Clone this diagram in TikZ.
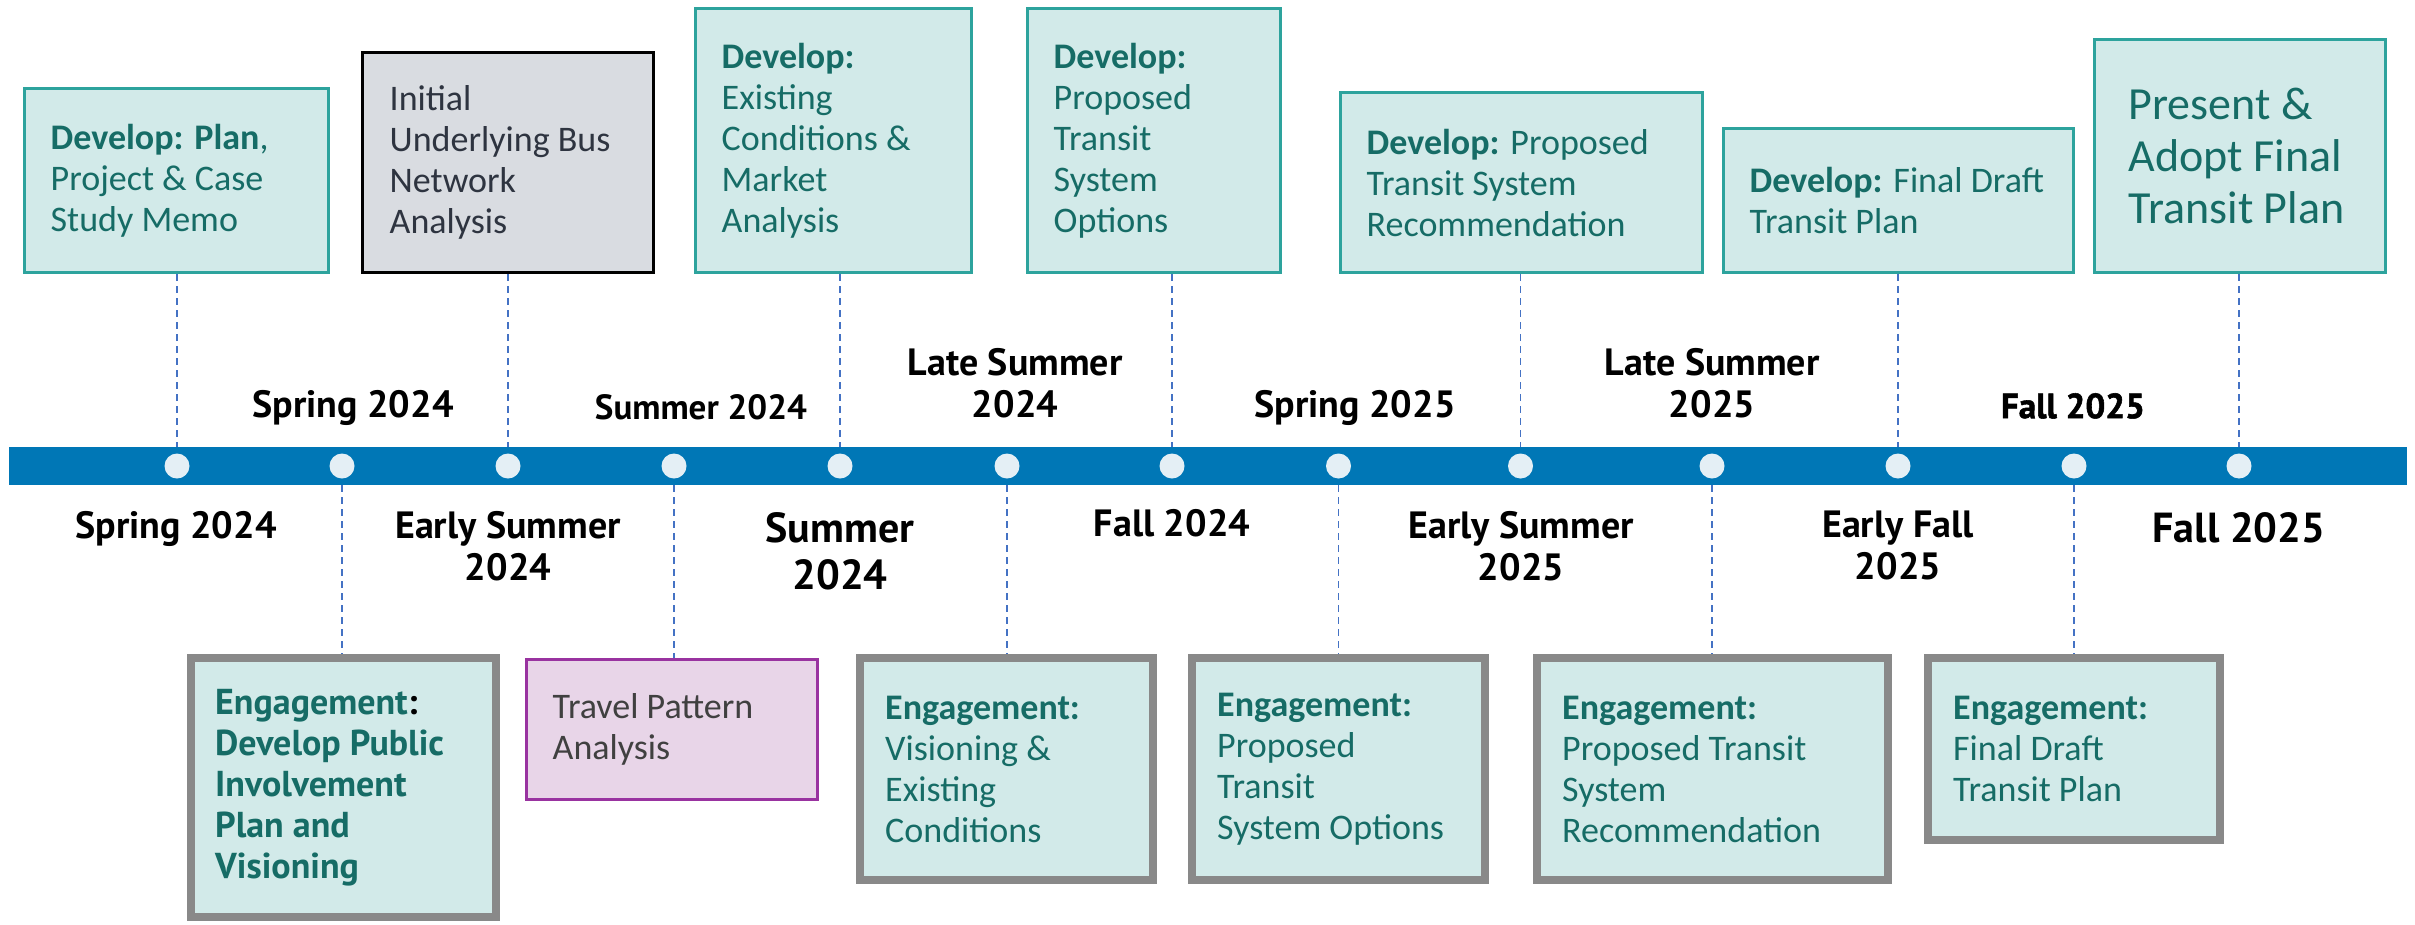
\documentclass[tikz,border=0pt]{standalone}
\usepackage{fontspec}
\setmainfont{Carlito}
\newfontfamily\datefont{PT Sans}[BoldFeatures={FakeBold=0}]
\newfontfamily\heavydate{PT Sans}[BoldFeatures={FakeBold=1.6}]
\usetikzlibrary{positioning}

\definecolor{barblue}{RGB}{0,119,182}
\definecolor{dotfill}{RGB}{228,239,245}
\definecolor{linkblue}{RGB}{68,114,196}
\definecolor{tealfill}{RGB}{210,234,233}
\definecolor{tealline}{RGB}{45,163,157}
\definecolor{tealtext}{RGB}{22,108,102}
\definecolor{grayfill}{RGB}{217,220,225}
\definecolor{graytext}{RGB}{46,52,64}
\definecolor{purplefill}{RGB}{232,213,232}
\definecolor{purpleline}{RGB}{153,51,160}
\definecolor{engline}{RGB}{137,137,137}

\tikzset{
  devbox/.style={draw=tealline, fill=tealfill, line width=3pt, inner sep=0pt},
  engbox/.style={devbox, draw=engline, line width=8pt},
  boxtext/.style={align=left, inner sep=0pt, text=tealtext, font=\fontsize{36}{41}\selectfont},
  datelabel/.style={align=center, inner sep=0pt, anchor=north, font=\datefont\bfseries\fontsize{38}{42}\selectfont},
  linkline/.style={draw=linkblue, line width=1.5pt, dash pattern=on 7pt off 5pt},
  dot/.style={circle, fill=dotfill, minimum size=25pt, inner sep=0pt}
}

\begin{document}
\begin{tikzpicture}[x=1pt, y=-1pt]
  \useasboundingbox (0,0) rectangle (2415,924);

  % develop boxes above the bar
  \node[devbox, minimum width=304pt, minimum height=184pt] (b1) at (176.5,180.5) {};
  \node[boxtext, right=27.5pt of b1.west] (t1) {\textbf{Develop: Plan},\\Project \& Case\\Study Memo};
  \node[devbox, draw=black, fill=grayfill, minimum width=291pt, minimum height=220pt] (b2) at (508,162.5) {};
  \node[boxtext, text=graytext, right=28.5pt of b2.west] (t2) {Initial\\Underlying Bus\\Network\\Analysis};
  \node[devbox, minimum width=276pt, minimum height=264pt] (b3) at (833.5,140.5) {};
  \node[boxtext, right=27.5pt of b3.west] (t3) {\textbf{Develop:}\\Existing\\Conditions \&\\Market\\Analysis};
  \node[devbox, minimum width=253pt, minimum height=264pt] (b4) at (1154,140.5) {};
  \node[boxtext, right=27.5pt of b4.west] (t4) {\textbf{Develop:}\\Proposed\\Transit\\System\\Options};
  \node[devbox, minimum width=362pt, minimum height=180pt] (b5) at (1521.5,182.5) {};
  \node[boxtext, right=27.5pt of b5.west] (t5) {\textbf{Develop:} Proposed\\Transit System\\Recommendation};
  \node[devbox, minimum width=349.5pt, minimum height=144pt] (b6) at (1898.25,200.5) {};
  \node[boxtext, right=27.5pt of b6.west] (t6) {\textbf{Develop:} Final Draft\\Transit Plan};
  \node[devbox, minimum width=291pt, minimum height=233pt] (b7) at (2240,156) {};
  \node[boxtext, font=\fontsize{46}{52}\selectfont, right=35.5pt of b7.west] (t7) {Present \&\\Adopt Final\\Transit Plan};

  % engagement and analysis boxes below the bar
  \node[engbox, minimum width=305pt, minimum height=259pt] (e1) at (343,787.5) {};
  \node[boxtext, font=\datefont\bfseries\fontsize{36}{41}\selectfont, right=28.5pt of e1.west] (s1)
    {Engagement{\color{black}:}\\Develop Public\\Involvement\\Plan and\\Visioning};
  \node[devbox, draw=purpleline, fill=purplefill, minimum width=291pt, minimum height=140pt] (tp) at (672,729.5) {};
  \node[boxtext, text=black!75, right=27.5pt of tp.west] (stp) {Travel Pattern\\Analysis};
  \node[engbox, minimum width=293pt, minimum height=222pt] (e2) at (1006.5,769) {};
  \node[boxtext, right=29pt of e2.west] (s2) {\textbf{Engagement:}\\Visioning \&\\Existing\\Conditions};
  \node[engbox, minimum width=293pt, minimum height=222pt] (e3) at (1338.5,769) {};
  \node[boxtext, right=29pt of e3.west] (s3) {\textbf{Engagement:}\\Proposed\\Transit\\System Options};
  \node[engbox, minimum width=351pt, minimum height=222pt] (e4) at (1712.5,769) {};
  \node[boxtext, right=29pt of e4.west] (s4) {\textbf{Engagement:}\\Proposed Transit\\System\\Recommendation};
  \node[engbox, minimum width=291.6pt, minimum height=182pt] (e5) at (2073.8,749) {};
  \node[boxtext, right=29pt of e5.west] (s5) {\textbf{Engagement:}\\Final Draft\\Transit Plan};

  % the bar and its stops
  \node[fill=barblue, minimum width=2398pt, minimum height=38pt, inner sep=0pt] (bar) at (1208,466) {};
  \foreach \x [count=\i] in {177,342,508,674,840,1007,1172,1338.5,1520.5,1712,1898,2074,2239}
    \node[dot] (d\i) at (\x,466) {};

  % dashed links
  \foreach \d/\b in {1/b1,3/b2,5/b3,7/b4,9/b5,11/b6,13/b7}
    \draw[linkline] (d\d |- \b.south) -- (d\d |- bar.north);
  \foreach \d/\b in {2/e1,4/tp,6/e2,8/e3,10/e4,12/e5}
    \draw[linkline] (d\d |- bar.south) -- (d\d |- \b.north);

  % dates above
  \node[datelabel] (u1) at (353,390) {Spring 2024};
  \node[datelabel, font=\datefont\bfseries\fontsize{35}{40}\selectfont] (u2) at (701,394) {Summer 2024};
  \node[datelabel] (u3) at (1015,348) {Late Summer\\2024};
  \node[datelabel] (u4) at (1355,390) {Spring 2025};
  \node[datelabel] (u5) at (1712,348) {Late Summer\\2025};
  \node[datelabel, font=\heavydate\bfseries\fontsize{35}{40}\selectfont] (u6) at (2073,393) {Fall 2025};

  % dates below
  \node[datelabel] (l1) at (176,511) {Spring 2024};
  \node[datelabel] (l2) at (508,511) {Early Summer\\2024};
  \node[datelabel, font=\datefont\bfseries\fontsize{42}{47}\selectfont] (l3) at (840,512) {Summer\\2024};
  \node[datelabel] (l4) at (1172,509) {Fall 2024};
  \node[datelabel] (l5) at (1521,511) {Early Summer\\2025};
  \node[datelabel] (l6) at (1898,511) {Early Fall\\2025};
  \node[datelabel, font=\datefont\bfseries\fontsize{42}{47}\selectfont] (l7) at (2239,512) {Fall 2025};
\end{tikzpicture}
\end{document}
